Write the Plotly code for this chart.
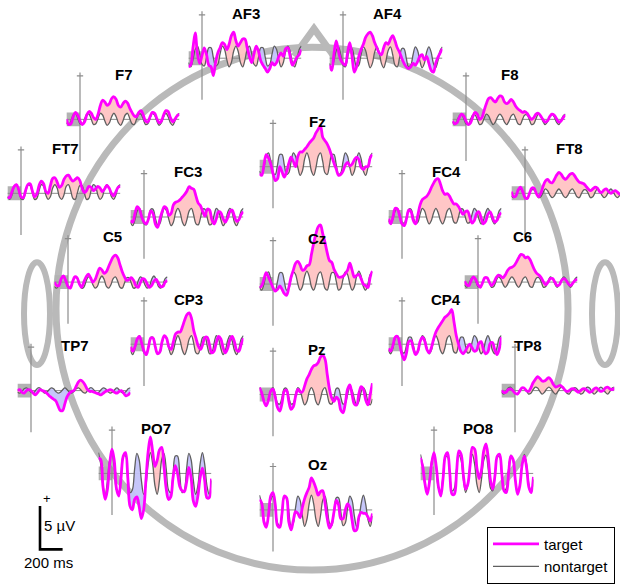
import plotly.graph_objects as go

# ------------------------------------------------------------------ data
# sample times of every averaged waveform (ms, stimulus onset at 0)
time_ms = list(range(-120, 881, 20))

af3_target = [-1.0, -0.8, 1.2, 2.9, 0.5, -0.6, 0.3, 1.2, 0.4, -0.8,
              -1.0, -2.0, -0.5, 0.6, 1.2, 1.8, 1.6, 1.0, 1.6, 2.6,
              3.0, 2.0, 1.4, 1.8, 2.2, 2.2, 1.2, 0.2, -0.5, 0.5,
              1.4, 0.8, -0.3, -0.8, -1.2, -1.6, -1.2, -0.5, -0.8, -0.5,
              0.2, 0.6, 0.2, 1.1, 1.2, 0.2, -0.8, -0.4, 0.1, 0.4, 1.0]
af3_nontarget = [-0.5, -1.0, -0.2, 1.0, 1.4, 0.5, -0.7, -0.9, 0.1, 1.2, 1.2, 0.1, -0.9, -0.7, 0.5, 1.4, 1.0, -0.2, -1.0, -0.5, 0.8, 1.4, 0.8,
                 -0.5, -1.0, -0.2, 1.0, 1.4, 0.5, -0.7, -0.9, 0.1, 1.2, 1.2, 0.1, -0.9, -0.7, 0.5, 1.4, 1.0, -0.2, -1.0, -0.5, 0.8, 1.4, 0.8,
                 -0.5, -1.0, -0.2, 1.0, 1.4]

af4_target = [-0.8, -1.4, 0.5, 2.0, 0.8, -0.2, -0.6, -0.8, 0.6, 1.8,
              0.2, -1.6, -1.0, 0.2, 1.0, 1.6, 2.4, 2.8, 3.0, 2.6,
              1.8, 1.2, 0.6, 0.4, 1.2, 1.8, 1.6, 2.2, 2.6, 2.0,
              1.2, 0.7, 0.0, -0.6, -1.0, -1.2, -1.0, -0.6, -0.8, -0.4,
              0.2, 0.4, -0.2, 0.2, -0.6, -1.4, -1.6, -0.6, 0.1, 0.6, 1.1]
af4_nontarget = [-0.6, -1.1, -0.3, 0.9, 1.3, 0.4, -0.8, -1.0, 0.0, 1.1, 1.1, 0.0, -1.0, -0.8, 0.4, 1.3, 0.9, -0.3, -1.1, -0.6, 0.7, 1.3, 0.7,
                 -0.6, -1.1, -0.3, 0.9, 1.3, 0.4, -0.8, -1.0, 0.0, 1.1, 1.1, 0.0, -1.0, -0.8, 0.4, 1.3, 0.9, -0.3, -1.1, -0.6, 0.7, 1.3, 0.7,
                 -0.6, -1.1, -0.3, 0.9, 1.3]

f7_target = [0.0, -0.6, -0.5, 0.3, 0.8, 0.5, -0.2, -0.6, -0.3, 0.5,
             0.9, 0.7, 0.2, 0.0, 0.6, 1.6, 2.2, 2.0, 1.6, 1.8,
             2.4, 2.6, 2.3, 1.6, 1.4, 1.8, 2.1, 1.9, 1.3, 0.8,
             0.4, 0.3, 0.8, 1.0, 0.5, -0.2, -0.3, 0.3, 0.8, 0.7,
             0.1, -0.4, -0.2, 0.5, 1.0, 0.9, 0.2, -0.3, 0.0, 0.4, 0.6]
f7_nontarget = [-0.4, -0.7, -0.2, 0.5, 0.7, 0.1, -0.5, -0.6, 0.0, 0.6, 0.6, 0.0, -0.6, -0.5, 0.1, 0.7, 0.5, -0.2, -0.7, -0.4, 0.3, 0.7, 0.3,
                -0.4, -0.7, -0.2, 0.5, 0.7, 0.1, -0.5, -0.6, 0.0, 0.6, 0.6, 0.0, -0.6, -0.5, 0.1, 0.7, 0.5, -0.2, -0.7, -0.4, 0.3, 0.7, 0.3,
                -0.4, -0.7, -0.2, 0.5, 0.7]

f8_target = [-0.2, -0.5, -0.4, 0.2, 0.6, 0.4, -0.2, -0.6, -0.4, 0.3,
             0.8, 0.6, 0.0, 0.2, 1.0, 1.8, 2.4, 2.5, 2.2, 2.0,
             2.4, 2.7, 2.6, 2.0, 1.8, 2.0, 2.3, 2.0, 1.5, 1.2,
             1.0, 0.8, 0.9, 0.7, 0.3, 0.0, 0.2, 0.6, 0.7, 0.4,
             0.0, -0.3, -0.2, 0.3, 0.6, 0.5, 0.1, -0.3, -0.2, 0.2, 0.5]
f8_nontarget = [-0.3, -0.6, -0.2, 0.4, 0.6, 0.1, -0.5, -0.6, 0.0, 0.5, 0.5, 0.0, -0.6, -0.5, 0.1, 0.6, 0.4, -0.2, -0.6, -0.3, 0.3, 0.6, 0.3,
                -0.3, -0.6, -0.2, 0.4, 0.6, 0.1, -0.5, -0.6, 0.0, 0.5, 0.5, 0.0, -0.6, -0.5, 0.1, 0.6, 0.4, -0.2, -0.6, -0.3, 0.3, 0.6, 0.3,
                -0.3, -0.6, -0.2, 0.4, 0.6]

fz_target = [-0.8, -1.0, 0.2, 1.4, 1.0, 0.3, -0.8, -1.6, -1.4, 0.0,
             -0.6, -1.2, -0.6, 0.4, 1.1, 0.6, 0.0, 1.2, 1.7, 1.7,
             2.0, 2.3, 2.7, 3.0, 3.3, 3.9, 4.3, 4.7, 3.4, 3.0,
             2.6, 2.0, 1.2, 0.4, -0.3, -1.0, -0.9, -0.5, 0.2, 0.5,
             0.1, 0.3, 0.8, 1.1, 0.8, -0.1, -0.3, 0.0, 0.0, 1.0, 1.4]
fz_nontarget = [-0.5, -1.0, -0.1, 1.2, 1.6, 0.6, -0.7, -0.9, 0.2, 1.4, 1.4, 0.2, -0.9, -0.7, 0.6, 1.6, 1.2, -0.1, -1.0, -0.5, 0.9, 1.6, 0.9,
                -0.5, -1.0, -0.1, 1.2, 1.6, 0.6, -0.7, -0.9, 0.2, 1.4, 1.4, 0.2, -0.9, -0.7, 0.6, 1.6, 1.2, -0.1, -1.0, -0.5, 0.9, 1.6, 0.9,
                -0.5, -1.0, -0.1, 1.2, 1.6]

ft7_target = [-0.4, -0.5, 0.2, 0.8, 1.0, 0.4, -0.4, -0.5, 0.3, 1.0,
              1.1, 0.3, -0.4, -0.1, 0.9, 1.4, 1.1, 0.2, 0.0, 0.9,
              1.7, 1.8, 1.3, 0.7, 0.9, 1.6, 2.0, 2.1, 1.7, 1.4,
              1.6, 1.8, 1.5, 0.6, 0.1, 0.3, 0.8, 0.7, 0.3, 0.5,
              0.8, 0.6, 0.2, 0.5, 0.9, 0.6, 0.0, -0.3, 0.2, 0.7, 0.8]
ft7_nontarget = [-0.4, -0.7, -0.2, 0.8, 1.0, 0.3, -0.6, -0.7, 0.1, 0.9, 0.9, 0.1, -0.7, -0.6, 0.3, 1.0, 0.8, -0.2, -0.7, -0.4, 0.6, 1.0, 0.6,
                 -0.4, -0.7, -0.2, 0.8, 1.0, 0.3, -0.6, -0.7, 0.1, 0.9, 0.9, 0.1, -0.7, -0.6, 0.3, 1.0, 0.8, -0.2, -0.7, -0.4, 0.6, 1.0, 0.6,
                 -0.4, -0.7, -0.2, 0.8, 1.0]

ft8_target = [0.2, -0.4, -0.3, 0.4, 0.7, 0.2, -0.5, -0.6, 0.0, 0.6,
              0.6, 0.0, -0.4, 0.0, 0.8, 1.4, 1.6, 1.3, 1.2, 1.6,
              2.1, 2.4, 2.2, 1.8, 1.6, 1.9, 2.2, 2.3, 2.0, 1.6,
              1.3, 1.2, 1.1, 0.8, 0.5, 0.3, 0.5, 0.7, 0.6, 0.2,
              0.1, 0.4, 0.5, 0.2, 0.0, 0.2, 0.3, 0.1, -0.1, 0.2, 0.4]
ft8_nontarget = [-0.3, -0.5, -0.2, 0.3, 0.5, 0.1, -0.4, -0.5, 0.0, 0.4, 0.4, 0.0, -0.5, -0.4, 0.1, 0.5, 0.3, -0.2, -0.5, -0.3, 0.2, 0.5, 0.2,
                 -0.3, -0.5, -0.2, 0.3, 0.5, 0.1, -0.4, -0.5, 0.0, 0.4, 0.4, 0.0, -0.5, -0.4, 0.1, 0.5, 0.3, -0.2, -0.5, -0.3, 0.2, 0.5, 0.2,
                 -0.3, -0.5, -0.2, 0.3, 0.5]

fc3_target = [-0.4, -0.6, 0.4, 1.2, 0.9, 0.0, -0.6, -0.8, -0.2, 0.7,
              0.4, -0.8, -1.2, -0.3, 0.6, 1.2, 1.0, 0.2, 0.4, 1.4,
              1.7, 1.8, 2.0, 2.3, 2.6, 3.0, 3.5, 3.3, 3.2, 2.4,
              1.6, 1.3, 0.6, 0.1, 0.9, 0.8, -0.3, -0.8, -0.2, 0.6,
              0.5, -0.2, -0.6, -0.1, 0.6, 0.8, 0.1, -0.5, -0.3, 0.3, 0.6]
fc3_nontarget = [-0.6, -1.0, -0.3, 0.7, 1.0, 0.2, -0.8, -0.9, -0.1, 0.9, 0.9, -0.1, -0.9, -0.8, 0.2, 1.0, 0.7, -0.3, -1.0, -0.6, 0.5, 1.0, 0.5,
                 -0.6, -1.0, -0.3, 0.7, 1.0, 0.2, -0.8, -0.9, -0.1, 0.9, 0.9, -0.1, -0.9, -0.8, 0.2, 1.0, 0.7, -0.3, -1.0, -0.6, 0.5, 1.0, 0.5,
                 -0.6, -1.0, -0.3, 0.7, 1.0]

fc4_target = [-0.2, -0.8, 0.0, 1.0, 0.9, 0.1, -0.8, -1.0, -0.2, 0.8,
              0.6, -0.4, -0.8, 0.2, 1.4, 2.0, 2.2, 2.4, 2.8, 3.4,
              3.9, 4.3, 4.4, 3.8, 3.0, 2.6, 2.7, 2.4, 1.9, 1.5,
              1.5, 1.2, 0.7, 0.3, 0.6, 0.7, 0.0, -0.7, -0.4, 0.4,
              0.6, -0.1, -0.8, -0.5, 0.3, 0.6, 0.0, -0.6, -0.4, 0.2, 0.5]
fc4_nontarget = [-0.4, -0.8, -0.2, 0.7, 1.0, 0.3, -0.6, -0.7, 0.0, 0.9, 0.9, 0.0, -0.7, -0.6, 0.3, 1.0, 0.7, -0.2, -0.8, -0.4, 0.5, 1.0, 0.5,
                 -0.4, -0.8, -0.2, 0.7, 1.0, 0.3, -0.6, -0.7, 0.0, 0.9, 0.9, 0.0, -0.7, -0.6, 0.3, 1.0, 0.7, -0.2, -0.8, -0.4, 0.5, 1.0, 0.5,
                 -0.4, -0.8, -0.2, 0.7, 1.0]

c5_target = [0.0, -0.4, -0.4, 0.4, 0.7, 0.2, -0.5, -0.7, 0.0, 0.6,
             0.5, -0.2, -0.6, 0.0, 0.6, 0.9, 0.5, 0.0, 0.3, 1.0,
             1.6, 1.4, 1.0, 1.2, 1.8, 2.4, 2.9, 3.1, 2.8, 2.0,
             1.2, 0.6, 0.2, 0.3, 0.5, 0.2, -0.4, -0.6, -0.1, 0.4,
             0.3, -0.2, -0.6, -0.4, 0.1, 0.3, -0.1, -0.5, -0.5, 0.0, 0.2]
c5_nontarget = [-0.5, -0.7, -0.3, 0.4, 0.6, 0.1, -0.6, -0.7, -0.1, 0.5, 0.5, -0.1, -0.7, -0.6, 0.1, 0.6, 0.4, -0.3, -0.7, -0.5, 0.3, 0.7, 0.3,
                -0.5, -0.7, -0.3, 0.4, 0.6, 0.1, -0.6, -0.7, -0.1, 0.5, 0.5, -0.1, -0.7, -0.6, 0.1, 0.6, 0.4, -0.3, -0.7, -0.5, 0.3, 0.7, 0.3,
                -0.5, -0.7, -0.3, 0.4, 0.6]

cz_target = [-0.4, -0.2, 0.6, 1.3, 0.8, 0.2, -0.4, -0.8, -0.6, -0.2,
             -0.6, -1.1, -1.3, -0.4, 0.8, 1.6, 2.4, 2.6, 2.2, 1.6,
             1.7, 2.1, 2.2, 3.4, 4.7, 5.8, 6.6, 6.8, 5.8, 4.8,
             3.6, 2.7, 2.5, 1.7, 1.2, 0.8, 0.8, 0.9, 1.2, 1.6,
             2.4, 1.6, 0.8, 1.0, 1.1, 0.6, 0.0, -0.2, -0.4, 0.8, 1.5]
cz_nontarget = [-0.3, -0.7, 0.0, 1.1, 1.4, 0.6, -0.5, -0.7, 0.3, 1.3, 1.3, 0.3, -0.7, -0.5, 0.6, 1.4, 1.1, 0.0, -0.7, -0.3, 0.9, 1.5, 0.9,
                -0.3, -0.7, 0.0, 1.1, 1.4, 0.6, -0.5, -0.7, 0.3, 1.3, 1.3, 0.3, -0.7, -0.5, 0.6, 1.4, 1.1, 0.0, -0.7, -0.3, 0.9, 1.5, 0.9,
                -0.3, -0.7, 0.0, 1.1, 1.4]

c6_target = [0.1, -0.3, -0.4, 0.2, 0.6, 0.3, -0.3, -0.6, -0.1, 0.5,
             0.5, 0.0, -0.4, -0.1, 0.5, 0.8, 0.7, 0.5, 0.8, 1.3,
             1.6, 1.7, 1.9, 2.3, 2.8, 3.2, 3.1, 2.8, 2.9, 2.6,
             2.0, 1.4, 1.0, 0.8, 0.5, 0.0, -0.3, 0.0, 0.4, 0.4,
             0.0, -0.4, -0.3, 0.2, 0.4, 0.2, -0.2, -0.4, -0.1, 0.2, 0.3]
c6_nontarget = [-0.3, -0.6, -0.2, 0.4, 0.6, 0.1, -0.5, -0.6, 0.0, 0.5, 0.5, 0.0, -0.6, -0.5, 0.1, 0.6, 0.4, -0.2, -0.6, -0.3, 0.3, 0.6, 0.3,
                -0.3, -0.6, -0.2, 0.4, 0.6, 0.1, -0.5, -0.6, 0.0, 0.5, 0.5, 0.0, -0.6, -0.5, 0.1, 0.6, 0.4, -0.2, -0.6, -0.3, 0.3, 0.6, 0.3,
                -0.3, -0.6, -0.2, 0.4, 0.6]

cp3_target = [-0.3, -0.8, -0.3, 0.6, 0.9, 0.1, -0.8, -1.2, -0.3, 0.7,
              0.7, -0.3, -1.1, -0.9, 0.3, 1.0, 0.7, -0.3, -0.6, 0.3,
              1.2, 1.4, 1.4, 2.0, 2.8, 3.4, 3.6, 3.0, 1.6, 0.7,
              -0.2, -0.6, 0.0, 0.8, 0.8, -0.1, -1.0, -0.8, 0.2, 0.9,
              0.6, -0.4, -1.0, -0.5, 0.5, 0.9, 0.3, -0.7, -0.8, 0.0, 0.7]
cp3_nontarget = [-0.7, -1.2, -0.5, 0.6, 1.0, 0.1, -1.0, -1.1, -0.2, 0.8, 0.8, -0.2, -1.1, -1.0, 0.1, 1.0, 0.6, -0.5, -1.2, -0.7, 0.4, 1.0, 0.4,
                 -0.7, -1.2, -0.5, 0.6, 1.0, 0.1, -1.0, -1.1, -0.2, 0.8, 0.8, -0.2, -1.1, -1.0, 0.1, 1.0, 0.6, -0.5, -1.2, -0.7, 0.4, 1.0, 0.4,
                 -0.7, -1.2, -0.5, 0.6, 1.0]

cp4_target = [-0.5, -0.8, -0.1, 0.8, 0.9, 0.0, -1.2, -1.8, -1.0, 0.3,
              0.4, -0.5, -1.2, -0.8, 0.3, 0.8, 0.4, -0.6, -1.0, -0.4,
              0.6, 1.4, 1.9, 2.3, 2.7, 3.1, 3.3, 3.6, 4.0, 2.6,
              1.0, 0.0, -0.8, -1.1, -0.8, -0.3, 0.0, -0.4, -0.8, -0.7,
              0.1, 0.3, -0.6, -1.1, -0.9, 0.1, 0.2, -0.6, -1.2, -0.6, 0.8]
cp4_nontarget = [-0.7, -1.1, -0.4, 0.7, 1.0, 0.2, -0.9, -1.0, -0.1, 0.8, 0.8, -0.1, -1.0, -0.9, 0.2, 1.0, 0.7, -0.4, -1.1, -0.7, 0.4, 1.0, 0.4,
                 -0.7, -1.1, -0.4, 0.7, 1.0, 0.2, -0.9, -1.0, -0.1, 0.8, 0.8, -0.1, -1.0, -0.9, 0.2, 1.0, 0.7, -0.4, -1.1, -0.7, 0.4, 1.0, 0.4,
                 -0.7, -1.1, -0.4, 0.7, 1.0]

tp7_target = [0.0, 0.1, -0.2, -0.3, 0.0, 0.1, 0.0, -0.3, -0.5, -0.2,
              0.1, 0.0, -0.1, -0.3, -0.6, -0.8, -1.0, -1.2, -1.8, -2.3,
              -2.3, -1.5, -0.7, -0.3, -0.1, 0.0, 0.5, 1.0, 1.2, 1.0,
              0.6, 0.1, -0.1, -0.1, -0.2, -0.3, -0.4, -0.5, -0.3, -0.1,
              0.0, 0.1, 0.0, -0.2, -0.3, -0.1, 0.0, -0.3, -0.6, -0.5, -0.2]
tp7_nontarget = [-0.2, -0.3, -0.1, 0.2, 0.3, 0.1, -0.2, -0.3, 0.0, 0.3, 0.3, 0.0, -0.3, -0.2, 0.1, 0.3, 0.2, -0.1, -0.3, -0.2, 0.1, 0.3, 0.1,
                 -0.2, -0.3, -0.1, 0.2, 0.3, 0.1, -0.2, -0.3, 0.0, 0.3, 0.3, 0.0, -0.3, -0.2, 0.1, 0.3, 0.2, -0.1, -0.3, -0.2, 0.1, 0.3, 0.1,
                 -0.2, -0.3, -0.1, 0.2, 0.3]

tp8_target = [0.0, -0.2, -0.2, 0.1, 0.2, 0.0, -0.3, -0.4, -0.1, 0.3,
              0.3, 0.0, -0.1, 0.3, 0.9, 1.3, 1.6, 1.4, 1.1, 1.1,
              1.3, 1.5, 1.2, 0.7, 0.4, 0.5, 0.6, 0.4, 0.1, -0.1,
              0.0, 0.2, 0.2, 0.0, -0.2, 0.0, 0.2, 0.2, 0.0, -0.2,
              -0.1, 0.2, 0.3, 0.1, -0.1, 0.0, 0.3, 0.4, 0.2, 0.1, 0.3]
tp8_nontarget = [-0.2, -0.4, -0.1, 0.3, 0.4, 0.1, -0.3, -0.4, 0.0, 0.3, 0.3, 0.0, -0.4, -0.3, 0.1, 0.4, 0.3, -0.1, -0.4, -0.2, 0.2, 0.4, 0.2,
                 -0.2, -0.4, -0.1, 0.3, 0.4, 0.1, -0.3, -0.4, 0.0, 0.3, 0.3, 0.0, -0.4, -0.3, 0.1, 0.4, 0.3, -0.1, -0.4, -0.2, 0.2, 0.4, 0.2,
                 -0.2, -0.4, -0.1, 0.3, 0.4]

pz_target = [0.8, 0.2, -0.8, -1.3, -0.6, 0.4, 0.6, -0.3, -1.5, -1.9,
             -1.0, 0.4, 0.5, -0.8, -1.7, -1.4, -0.2, 0.6, 0.3, 0.3,
             1.0, 1.8, 2.3, 2.9, 3.3, 3.4, 3.7, 4.3, 4.5, 4.1,
             2.3, 0.6, -0.4, -0.8, -0.3, -0.6, -1.8, -2.1, -1.0, 0.6,
             1.1, 0.0, -1.1, -1.2, 0.1, 0.9, 0.6, -0.6, -1.2, 0.0, 1.3]
pz_nontarget = [0.8, 0.3, -0.8, -1.2, -0.5, 0.5, 0.8, 0.0, -1.0, -1.1, -0.3, 0.7, 0.7, -0.3, -1.1, -1.0, 0.0, 0.8, 0.5, -0.5, -1.2, -0.8, 0.3,
                0.8, 0.3, -0.8, -1.2, -0.5, 0.5, 0.8, 0.0, -1.0, -1.1, -0.3, 0.7, 0.7, -0.3, -1.1, -1.0, 0.0, 0.8, 0.5, -0.5, -1.2, -0.8, 0.3,
                0.8, 0.3, -0.8, -1.2, -0.5]

po7_target = [1.8, 1.6, -1.5, -3.0, -1.8, 1.2, 2.8, 1.5, -1.8, -2.6,
              -0.5, 2.0, 2.4, -0.5, -3.8, -4.2, -3.0, -2.7, -3.8, -5.2,
              -4.2, -0.8, 2.5, 4.2, 2.5, 0.8, 1.5, 2.7, 3.0, 0.8,
              -1.8, -3.0, -2.7, -0.5, 0.9, 0.0, -1.5, -2.0, -2.1, -1.0,
              0.7, -0.5, -3.2, -3.8, -2.6, -0.5, 0.6, -0.8, -2.8, -2.8, -0.6]
po7_nontarget = [2.4, 1.1, -1.4, -2.4, -0.8, 1.6, 2.3, 0.5, -1.9, -2.2, -0.2, 2.0, 2.0, -0.2, -2.2, -1.9, 0.5, 2.3, 1.6, -0.8, -2.4, -1.4, 1.1,
                 2.4, 1.1, -1.4, -2.4, -0.8, 1.6, 2.3, 0.5, -1.9, -2.2, -0.2, 2.0, 2.0, -0.2, -2.2, -1.9, 0.5, 2.3, 1.6, -0.8, -2.4, -1.4, 1.1,
                 2.4, 1.1, -1.4, -2.4, -0.8]

oz_target = [1.2, 0.8, -1.4, -2.0, -0.6, 1.6, 2.0, 0.6, -1.8, -2.0,
             -0.4, 1.6, 1.4, -1.4, -2.3, -1.2, -0.2, -0.4, -0.9, 0.3,
             1.3, 2.0, 2.6, 3.7, 3.2, 2.5, 1.7, 2.1, 2.2, 0.8,
             -1.0, -2.1, -1.6, -0.2, 1.1, 0.6, -1.0, -1.0, 0.0, 0.7,
             0.3, -1.2, -2.4, -2.3, -0.8, -0.3, -0.4, -0.4, -0.8, -1.3, -0.4]
oz_nontarget = [1.7, 0.7, -1.1, -1.9, -0.7, 1.1, 1.6, 0.3, -1.5, -1.8, -0.2, 1.4, 1.4, -0.2, -1.8, -1.5, 0.3, 1.6, 1.1, -0.7, -1.9, -1.1, 0.7,
                1.7, 0.7, -1.1, -1.9, -0.7, 1.1, 1.6, 0.3, -1.5, -1.8, -0.2, 1.4, 1.4, -0.2, -1.8, -1.5, 0.3, 1.6, 1.1, -0.7, -1.9, -1.1, 0.7,
                1.7, 0.7, -1.1, -1.9, -0.7]

po8_target = [1.8, 0.8, -1.2, -2.4, -1.0, 1.2, 2.4, 0.8, -1.6, -2.6,
              -0.6, 2.0, 2.4, 0.0, -2.4, -2.4, 0.2, 2.6, 2.2, -0.2,
              -1.8, -1.2, 1.0, 3.0, 2.8, 0.6, -0.6, 0.4, 2.6, 3.4,
              1.8, -0.8, -1.8, -0.2, 2.0, 2.2, 0.0, -2.0, -2.2, 0.0,
              2.0, 1.6, -0.8, -2.4, -1.4, 1.0, 2.0, 0.6, -1.6, -2.2, -0.4]
po8_nontarget = [2.2, 1.0, -1.3, -2.2, -0.7, 1.5, 2.1, 0.5, -1.7, -2.0, -0.2, 1.9, 1.9, -0.2, -2.0, -1.7, 0.5, 2.1, 1.5, -0.7, -2.2, -1.3, 1.0,
                 2.2, 1.0, -1.3, -2.2, -0.7, 1.5, 2.1, 0.5, -1.7, -2.0, -0.2, 1.9, 1.9, -0.2, -2.0, -1.7, 0.5, 2.1, 1.5, -0.7, -2.2, -1.3, 1.0,
                 2.2, 1.0, -1.3, -2.2, -0.7]

channel_names = ["AF3", "AF4", "F7", "Fz", "F8", "FT7", "FC3", "FC4", "FT8",
                 "C5", "Cz", "C6", "CP3", "CP4", "TP7", "Pz", "TP8", "PO7", "Oz", "PO8"]

waveforms = {
    "AF3": (af3_target, af3_nontarget), "AF4": (af4_target, af4_nontarget),
    "F7": (f7_target, f7_nontarget), "Fz": (fz_target, fz_nontarget), "F8": (f8_target, f8_nontarget),
    "FT7": (ft7_target, ft7_nontarget), "FC3": (fc3_target, fc3_nontarget),
    "FC4": (fc4_target, fc4_nontarget), "FT8": (ft8_target, ft8_nontarget),
    "C5": (c5_target, c5_nontarget), "Cz": (cz_target, cz_nontarget), "C6": (c6_target, c6_nontarget),
    "CP3": (cp3_target, cp3_nontarget), "CP4": (cp4_target, cp4_nontarget),
    "TP7": (tp7_target, tp7_nontarget), "Pz": (pz_target, pz_nontarget), "TP8": (tp8_target, tp8_nontarget),
    "PO7": (po7_target, po7_nontarget), "Oz": (oz_target, oz_nontarget), "PO8": (po8_target, po8_nontarget),
}
for nm, (a, b) in waveforms.items():
    assert len(a) == len(time_ms) and len(b) == len(time_ms), nm

# ---------------------------------------------------------------- layout
W, H = 620, 584
PX_PER_MS = 0.113          # horizontal scale of every panel
PX_PER_UV = 8.8            # vertical scale of every panel
T_MIN, T_MAX = time_ms[0], time_ms[-1]
V_MIN, V_MAX = -6.0, 8.0

# position of each panel on the head: (x of the 0 ms line, y of the 0 uV line), in pixels
panel_anchor = {
    "AF3": (202, 59), "AF4": (343, 59),
    "F7": (80, 121), "Fz": (273, 169), "F8": (466, 121),
    "FT7": (21, 196), "FC3": (144, 220), "FC4": (402, 220), "FT8": (525, 196),
    "C5": (68, 286), "Cz": (273, 288), "C6": (478, 286),
    "CP3": (144, 349), "CP4": (402, 349),
    "TP7": (31, 396), "Pz": (273, 400), "TP8": (515, 396),
    "PO7": (112, 480), "Oz": (273, 517), "PO8": (434, 480),
}
# label position inside each panel (ms, uV)
label_pos = {name: (390, 5.2) for name in channel_names}
label_pos["TP8"] = (118, 5.2)

MAGENTA = "#ff00ff"
GRAY_LINE = "rgb(95,95,95)"
PINK = "rgba(255,195,195,0.95)"
BLUE = "rgba(195,195,250,0.95)"
BOX_GRAY = "rgb(178,178,178)"
AXIS_GRAY = "rgb(140,140,140)"
HEAD_GRAY = "rgb(185,185,185)"
FONT = "Liberation Sans, Arial, Helvetica, sans-serif"


def axis_frame(ax_px, base_px):
    """Domains and ranges so that every panel shares the same px-per-unit scale."""
    left = ax_px + T_MIN * PX_PER_MS
    right = ax_px + T_MAX * PX_PER_MS
    top = base_px - V_MAX * PX_PER_UV
    bottom = base_px - V_MIN * PX_PER_UV
    xr = [T_MIN, T_MAX]
    yr = [V_MIN, V_MAX]
    if left < 0:
        xr[0] = T_MIN - left / PX_PER_MS
        left = 0
    if right > W:
        xr[1] = T_MAX - (right - W) / PX_PER_MS
        right = W
    if top < 0:
        yr[1] = V_MAX + top / PX_PER_UV
        top = 0
    if bottom > H:
        yr[0] = V_MIN + (bottom - H) / PX_PER_UV
        bottom = H
    return [left / W, right / W], xr, [1 - bottom / H, 1 - top / H], yr


def paper(x, y):
    return x / W, 1 - y / H


fig = go.Figure()
layout_axes = {}
shapes = []
annotations = []

# head outline, nose and ears
hx, hy, hrx, hry = 312, 313, 256, 265
x0, y0 = paper(hx - hrx, hy + hry)
x1, y1 = paper(hx + hrx, hy - hry)
shapes.append(dict(type="circle", xref="paper", yref="paper", x0=x0, y0=y0, x1=x1, y1=y1,
                   line=dict(color=HEAD_GRAY, width=7), layer="below"))
nl = paper(294, 57)
na = paper(314, 29)
nr = paper(334, 57)
shapes.append(dict(type="path", xref="paper", yref="paper",
                   path=f"M {nl[0]},{nl[1]} L {na[0]},{na[1]} L {nr[0]},{nr[1]}",
                   line=dict(color=HEAD_GRAY, width=7), layer="below"))
for ex in (37, 605):
    e0 = paper(ex - 13, 318 + 52)
    e1 = paper(ex + 13, 318 - 52)
    shapes.append(dict(type="circle", xref="paper", yref="paper", x0=e0[0], y0=e0[1], x1=e1[0], y1=e1[1],
                       line=dict(color=HEAD_GRAY, width=6), layer="below"))

for k, name in enumerate(channel_names, start=1):
    xdom, xr, ydom, yr = axis_frame(*panel_anchor[name])
    sx = "" if k == 1 else str(k)
    xa, ya = "x" + sx, "y" + sx
    layout_axes["xaxis" + sx] = dict(domain=xdom, range=xr, visible=False, anchor=ya, fixedrange=True)
    layout_axes["yaxis" + sx] = dict(domain=ydom, range=yr, visible=False, anchor=xa, fixedrange=True)

    tgt, non = waveforms[name]
    upper = [max(a, b) for a, b in zip(tgt, non)]
    lower = [min(a, b) for a, b in zip(tgt, non)]
    common = dict(x=time_ms, xaxis=xa, yaxis=ya, mode="lines", hoverinfo="skip")
    spl = dict(shape="spline", smoothing=1.0)

    fig.add_trace(go.Scatter(y=non, line=dict(width=0, **spl), showlegend=False, **common))
    fig.add_trace(go.Scatter(y=upper, line=dict(width=0, **spl), fill="tonexty", fillcolor=PINK,
                             showlegend=False, **common))
    fig.add_trace(go.Scatter(y=non, line=dict(width=0, **spl), showlegend=False, **common))
    fig.add_trace(go.Scatter(y=lower, line=dict(width=0, **spl), fill="tonexty", fillcolor=BLUE,
                             showlegend=False, **common))
    fig.add_trace(go.Scatter(y=non, name="nontarget", line=dict(color=GRAY_LINE, width=1.3, **spl),
                             showlegend=(k == 1), legendrank=2, **common))
    fig.add_trace(go.Scatter(y=tgt, name="target", line=dict(color=MAGENTA, width=2.8, **spl),
                             showlegend=(k == 1), legendrank=1, **common))

    # baseline box, zero line, vertical axis with its top tick
    shapes.append(dict(type="rect", xref=xa, yref=ya, x0=T_MIN, x1=0, y0=-0.8, y1=0.8,
                       fillcolor=BOX_GRAY, line=dict(width=0), layer="below"))
    shapes.append(dict(type="line", xref=xa, yref=ya, x0=T_MIN, x1=T_MAX, y0=0, y1=0,
                       line=dict(color=AXIS_GRAY, width=1), layer="below"))
    shapes.append(dict(type="line", xref=xa, yref=ya, x0=0, x1=0, y0=-4.8, y1=5.4,
                       line=dict(color=AXIS_GRAY, width=1.2), layer="below"))
    shapes.append(dict(type="line", xref=xa, yref=ya, x0=-28, x1=28, y0=5.0, y1=5.0,
                       line=dict(color=AXIS_GRAY, width=1.2), layer="below"))
    lx, ly = label_pos[name]
    annotations.append(dict(xref=xa, yref=ya, x=lx, y=ly, text=f"<b>{name}</b>", showarrow=False,
                            font=dict(family=FONT, size=15, color="black"),
                            xanchor="center", yanchor="middle"))

# scale bar panel
ks = len(channel_names) + 1
xdom, xr, ydom, yr = axis_frame(40, 557)
layout_axes[f"xaxis{ks}"] = dict(domain=xdom, range=xr, visible=False, anchor=f"y{ks}", fixedrange=True)
layout_axes[f"yaxis{ks}"] = dict(domain=ydom, range=yr, visible=False, anchor=f"x{ks}", fixedrange=True)
scale_ms, scale_uv = 200, 5
fig.add_trace(go.Scatter(x=[0, 0, scale_ms], y=[scale_uv, 0, 0], xaxis=f"x{ks}", yaxis=f"y{ks}",
                         mode="lines", line=dict(color="black", width=2.6), showlegend=False,
                         hoverinfo="skip"))
annotations += [
    dict(xref=f"x{ks}", yref=f"y{ks}", x=60, y=5.9, text="+", showarrow=False,
         font=dict(family=FONT, size=13, color="black")),
    dict(xref=f"x{ks}", yref=f"y{ks}", x=15, y=2.7, text=f"{scale_uv} \u00b5V", showarrow=False,
         xanchor="left", font=dict(family=FONT, size=15, color="black")),
    dict(xref=f"x{ks}", yref=f"y{ks}", x=72, y=-1.5, text=f"{scale_ms} ms", showarrow=False,
         font=dict(family=FONT, size=15, color="black")),
]

fig.update_layout(
    width=W, height=H, margin=dict(l=0, r=0, t=0, b=0),
    paper_bgcolor="white", plot_bgcolor="rgba(0,0,0,0)",
    shapes=shapes, annotations=annotations, hovermode=False,
    showlegend=True,
    legend=dict(x=487 / W, y=1 - 534 / H, xanchor="left", yanchor="top",
                bgcolor="white", bordercolor="black", borderwidth=1,
                font=dict(family=FONT, size=15, color="black"),
                itemwidth=46, tracegroupgap=0, traceorder="normal",
                entrywidth=122, entrywidthmode="pixels"),
    **layout_axes,
)

fig.write_html("out.html")
